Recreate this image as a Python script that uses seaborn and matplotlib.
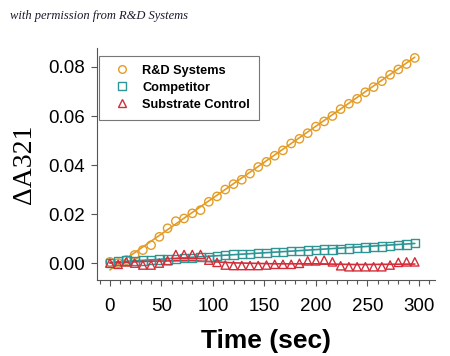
import numpy as np
import pandas as pd
import matplotlib
matplotlib.use("Agg")
import matplotlib.pyplot as plt
from matplotlib.lines import Line2D
from matplotlib.ticker import MultipleLocator
import seaborn as sns

# ---- data ----
time_s = [0, 8, 16, 24, 32, 40, 48, 56, 64, 72, 80, 88, 96, 104, 112, 120, 128, 136, 144,
          152, 160, 168, 176, 184, 192, 200, 208, 216, 224, 232, 240, 248, 256, 264, 272,
          280, 288, 296]
rnd_systems = [0.0005, 0.0000, 0.0012, 0.0033, 0.0053, 0.0073, 0.0107, 0.0142, 0.0171, 0.0182,
               0.0203, 0.0216, 0.0250, 0.0272, 0.0300, 0.0322, 0.0340, 0.0365, 0.0392, 0.0413,
               0.0438, 0.0460, 0.0488, 0.0507, 0.0530, 0.0557, 0.0578, 0.0600, 0.0628, 0.0650,
               0.0670, 0.0697, 0.0718, 0.0742, 0.0768, 0.0790, 0.0812, 0.0837]
competitor = [0.0000, 0.0008, 0.0010, 0.0008, 0.0010, 0.0012, 0.0015, 0.0015, 0.0018, 0.0020,
              0.0022, 0.0025, 0.0026, 0.0030, 0.0032, 0.0035, 0.0036, 0.0038, 0.0040, 0.0042,
              0.0044, 0.0046, 0.0048, 0.0050, 0.0052, 0.0053, 0.0055, 0.0056, 0.0058, 0.0060,
              0.0062, 0.0064, 0.0066, 0.0068, 0.0070, 0.0073, 0.0076, 0.0082]
substrate_control = [0.0000, -0.0005, 0.0005, 0.0000, -0.0008, -0.0008, 0.0000, 0.0010, 0.0035,
                     0.0035, 0.0035, 0.0035, 0.0012, 0.0003, -0.0008, -0.0010, -0.0010, -0.0010,
                     -0.0010, -0.0008, -0.0005, -0.0005, -0.0005, -0.0001, 0.0009, 0.0009,
                     0.0012, 0.0005, -0.0011, -0.0015, -0.0015, -0.0015, -0.0015, -0.0015,
                     -0.0008, 0.0003, 0.0005, 0.0005]

fit_t = [0, 296]
rnd_fit = [-0.0028, 0.0840]
competitor_fit = [0.0003, 0.0080]
control_fit_t = [0, 40, 80, 120, 160, 200, 240, 296]
control_fit = [0.0000, 0.0008, 0.0010, 0.0001, -0.0003, -0.0003, -0.0006, -0.0004]

labels = ["R&D Systems", "Competitor", "Substrate Control"]
colors = ["#E39C26", "#2E9494", "#D22E3A"]
markers = ["o", "s", "^"]
x_ticks = [0, 50, 100, 150, 200, 250, 300]
y_ticks = [0.00, 0.02, 0.04, 0.06, 0.08]

sns.set_style("ticks")
plt.rcParams["font.family"] = ["Liberation Sans", "DejaVu Sans"]
plt.rcParams["text.color"] = "black"
plt.rcParams["axes.labelcolor"] = "black"
plt.rcParams["xtick.labelcolor"] = "black"
plt.rcParams["ytick.labelcolor"] = "black"

fig = plt.figure(figsize=(4.5, 3.56), dpi=100)
ax = fig.add_axes([0.2156, 0.2135, 0.752, 0.652])

series = [rnd_systems, competitor, substrate_control]
fits = [(fit_t, rnd_fit), (fit_t, competitor_fit), (control_fit_t, control_fit)]
for vals, (ft, fv), col, mk in zip(series, fits, colors, markers):
    sns.lineplot(x=ft, y=fv, ax=ax, color=col, linewidth=1.2, zorder=2)
    sns.scatterplot(x=time_s, y=vals, ax=ax, marker=mk, s=36, facecolors="none",
                    edgecolor=col, linewidth=1.0, zorder=3)

ax.set_xlim(-12.5, 316)
ax.set_ylim(-0.0069, 0.0878)
ax.set_xticks(x_ticks)
ax.xaxis.set_minor_locator(MultipleLocator(10))
ax.set_yticks(y_ticks)
ax.set_yticklabels([f"{v:.2f}" for v in y_ticks])
ax.tick_params(axis="both", which="major", labelsize=13.5, direction="out", length=4,
               width=0.8, color="#555555", labelcolor="black")
ax.tick_params(axis="x", which="major", pad=9)
ax.tick_params(axis="x", which="minor", direction="out", length=3, width=0.8, color="#555555")
ax.tick_params(axis="y", pad=5)
for sp in ["top", "right"]:
    ax.spines[sp].set_visible(False)
for sp in ["left", "bottom"]:
    ax.spines[sp].set_color("#555555")
    ax.spines[sp].set_linewidth(0.8)

ax.set_xlabel("Time (sec)", fontsize=19, fontweight="bold", labelpad=10, color="black")
ax.set_ylabel("\u0394A321", fontsize=20, family=["Liberation Serif", "DejaVu Serif"],
              labelpad=8, color="black")

handles = [Line2D([], [], linestyle="none", marker=mk, markersize=5.5, markerfacecolor="none",
                  markeredgecolor=col, markeredgewidth=1.0) for mk, col in zip(markers, colors)]
leg = ax.legend(handles, labels, loc="upper left", bbox_to_anchor=(0.006, 0.966),
                borderaxespad=0, frameon=True, fancybox=False,
                prop={"weight": "bold", "size": 9.2},
                handletextpad=0.5, labelspacing=0.4, borderpad=0.7, handlelength=2.2)
leg.get_frame().set_edgecolor("#555555")
leg.get_frame().set_linewidth(0.8)
for t in leg.get_texts():
    t.set_color("black")

fig.text(0.022, 0.955, "with permission from R&D Systems", fontsize=9, style="italic",
         family=["Liberation Serif", "DejaVu Serif"], color="#1a1a2e", va="center")

fig.savefig("out.png", dpi=100)
